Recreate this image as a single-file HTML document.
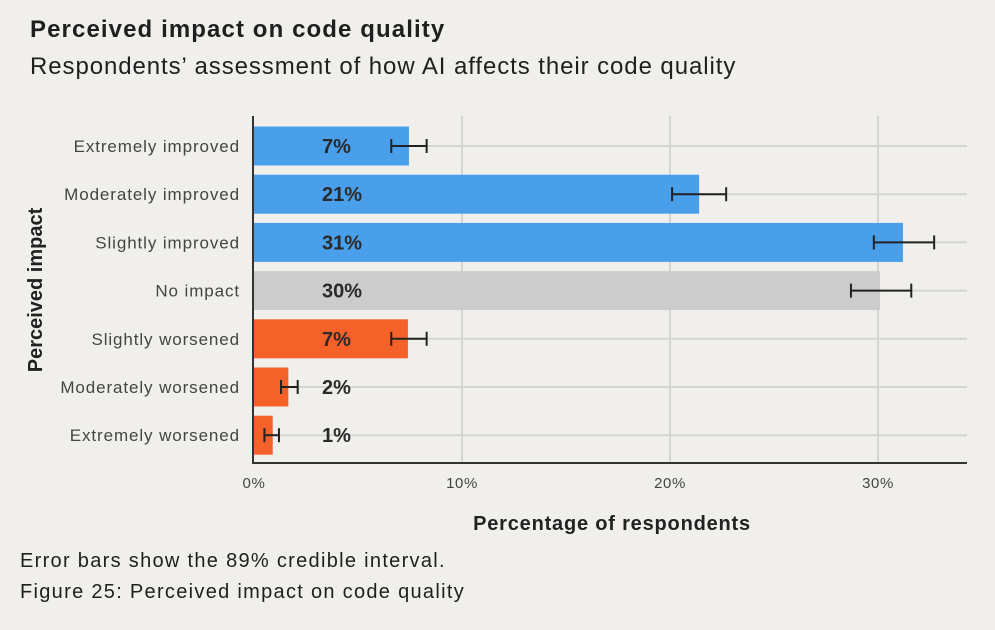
<!DOCTYPE html>
<html><head><meta charset="utf-8"><style>
body{margin:0;background:#F0EFEC;font-family:"Liberation Sans",sans-serif;color:#1f1f1f}
.wrap{position:relative;width:995px;height:630px;overflow:hidden}
.t{position:absolute;white-space:nowrap}
</style></head><body>
<div class="wrap">
<div class="t" style="left:30px;top:16px;font-size:24px;font-weight:bold;letter-spacing:1.1px">Perceived impact on code quality</div>
<div class="t" style="left:30px;top:53px;font-size:24px;letter-spacing:0.92px">Respondents’ assessment of how AI affects their code quality</div>
<svg id="c" width="995" height="630" style="position:absolute;left:0;top:0"></svg>
<div class="t" style="left:20px;top:550px;font-size:20px;letter-spacing:1.3px">Error bars show the 89% credible interval.</div>
<div class="t" style="left:20px;top:581px;font-size:20px;letter-spacing:1.3px">Figure 25: Perceived impact on code quality</div>
</div>
<script>
const categories=["Extremely improved","Moderately improved","Slightly improved","No impact","Slightly worsened","Moderately worsened","Extremely worsened"];
const values=[7.45,21.4,31.2,30.1,7.4,1.65,0.9];
const lowErr=[6.6,20.1,29.8,28.7,6.6,1.3,0.5];
const highErr=[8.3,22.7,32.7,31.6,8.3,2.1,1.2];
const labels=["7%","21%","31%","30%","7%","2%","1%"];
const groupColors=["#4A9FEA","#4A9FEA","#4A9FEA","#CCCCCC","#F4622A","#F4622A","#F4622A"];
const ticks=[0,10,20,30];
const tickLabels=["0%","10%","20%","30%"];
const chartSvg=document.getElementById('c');const NS="http://www.w3.org/2000/svg";
const x0=254,pxPer=20.8,y0=146,step=48.2,bh=39,plotRight=967,plotTop=116,plotBottom=463;
const X=v=>x0+v*pxPer, Y=i=>y0+i*step;
function mk(t,a,p){const e=document.createElementNS(NS,t);for(const k in a)e.setAttribute(k,a[k]);(p||chartSvg).appendChild(e);return e;}
ticks.forEach((t,i)=>{
 if(t>0){const g=mk('line',{x1:X(t),x2:X(t),y1:plotTop,y2:plotBottom,stroke:'#D4D4D2','stroke-width':2});
 
 }
 const tl=mk('text',{x:X(t),y:488,'text-anchor':'middle','font-size':15,'letter-spacing':0.6,fill:'#444','font-family':'Liberation Sans'});tl.textContent=tickLabels[i];
 
 
});
categories.forEach((c,i)=>{
 const g=mk('line',{x1:x0,x2:plotRight,y1:Y(i),y2:Y(i),stroke:'#D4D4D2','stroke-width':2});
 
 
 const r=mk('rect',{x:x0,y:Y(i)-bh/2,width:X(values[i])-x0,height:bh,fill:groupColors[i]});
 
 
 const l=mk('text',{x:240,y:Y(i)+6,'text-anchor':'end','font-size':17,'letter-spacing':0.9,fill:'#444','font-family':'Liberation Sans'});l.textContent=c;
 
 
 const v=mk('text',{x:322,y:Y(i)+7,'font-size':20,'font-weight':'bold',fill:'#2a2a2a','font-family':'Liberation Sans'});v.textContent=labels[i];
 
 
 const eg=mk('g',{stroke:'#222','stroke-width':2});
 
 
 mk('line',{x1:X(lowErr[i]),x2:X(highErr[i]),y1:Y(i),y2:Y(i)},eg);
 mk('line',{x1:X(lowErr[i]),x2:X(lowErr[i]),y1:Y(i)-7,y2:Y(i)+7},eg);
 mk('line',{x1:X(highErr[i]),x2:X(highErr[i]),y1:Y(i)-7,y2:Y(i)+7},eg);
});
const ax=mk('line',{x1:x0-1,x2:x0-1,y1:plotTop,y2:plotBottom+1,stroke:'#333','stroke-width':2});


const bx=mk('line',{x1:x0-2,x2:plotRight,y1:plotBottom,y2:plotBottom,stroke:'#333','stroke-width':2});


const xt=mk('text',{x:612,y:530,'text-anchor':'middle','font-size':20,'letter-spacing':0.8,'font-weight':'bold',fill:'#222','font-family':'Liberation Sans'});xt.textContent='Percentage of respondents';


const yt=mk('text',{x:0,y:0,'text-anchor':'middle','font-size':20,'font-weight':'bold',fill:'#222','font-family':'Liberation Sans',transform:'translate(42,290) rotate(-90)'});yt.textContent='Perceived impact';


</script>
</body></html>
